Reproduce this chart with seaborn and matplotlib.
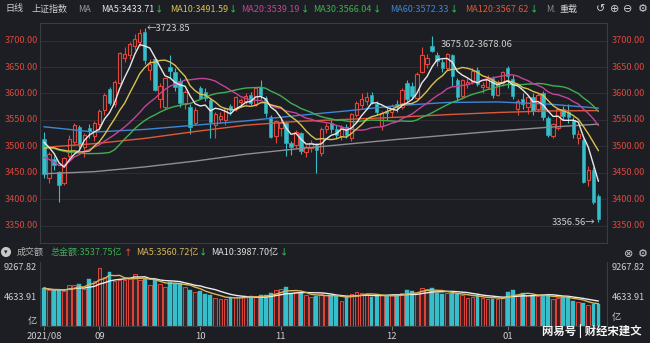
import numpy as np
import pandas as pd
import matplotlib
matplotlib.use("Agg")
import matplotlib.pyplot as plt
import seaborn as sns

# ---------------- data: SSE Composite, daily, 2021-08-17 .. 2022-01-28 ----------------
month_tick_day = [0, 11, 31, 47, 69, 92]
month_labels = ["2021/08", "09", "10", "11", "12", "01"]

opens = [3513, 3440, 3476, 3452, 3430, 3482, 3508, 3536, 3498, 3534, 3520,
         3542, 3568, 3608, 3580, 3620, 3668, 3672, 3690, 3697, 3716, 3645, 3665, 3590, 3575, 3650, 3640, 3624, 3580, 3575, 3545,
         3610, 3602, 3588, 3540, 3552, 3550, 3576, 3570, 3583, 3585, 3598, 3580, 3612, 3592, 3555, 3520,
         3535, 3545, 3506, 3502, 3525, 3490, 3497, 3502, 3488, 3533, 3545, 3533, 3520, 3537, 3515, 3560, 3578, 3585, 3597, 3580, 3538, 3567,
         3565, 3580, 3575, 3620, 3615, 3592, 3640, 3655, 3690, 3672, 3660, 3648, 3672, 3625, 3595, 3618, 3622, 3645, 3612, 3613, 3630, 3597, 3620,
         3649, 3628, 3570, 3590, 3575, 3594, 3570, 3600, 3553, 3520, 3535, 3570, 3565, 3550, 3515, 3512, 3436, 3456, 3405]
highs = [3528, 3489, 3482, 3454, 3480, 3522, 3545, 3541, 3525, 3543, 3548,
         3570, 3600, 3612, 3625, 3678, 3688, 3698, 3712, 3722, 3723.85, 3665, 3670, 3620, 3630, 3672, 3648, 3630, 3606, 3580, 3575,
         3614, 3610, 3592, 3565, 3565, 3575, 3580, 3596, 3592, 3600, 3602, 3612, 3625, 3596, 3560, 3550,
         3555, 3548, 3510, 3530, 3528, 3503, 3512, 3507, 3536, 3545, 3550, 3540, 3540, 3542, 3563, 3585, 3600, 3602, 3603, 3585, 3566, 3573,
         3580, 3588, 3610, 3626, 3622, 3640, 3688, 3675.02, 3708.94, 3678, 3665, 3676, 3675, 3630, 3628, 3630, 3648, 3650, 3622, 3635, 3633, 3625, 3642,
         3652, 3635, 3590, 3600, 3596, 3600, 3600, 3605, 3558, 3545, 3572, 3576, 3580, 3555, 3530, 3516, 3462, 3460, 3410]
lows = [3440, 3431, 3455, 3395, 3426, 3478, 3503, 3497, 3480, 3515, 3510,
        3530, 3560, 3578, 3575, 3618, 3660, 3665, 3683, 3690, 3655, 3625, 3605, 3572, 3570, 3630, 3605, 3575, 3570, 3524, 3540,
        3590, 3586, 3515, 3516, 3545, 3540, 3560, 3566, 3575, 3580, 3578, 3576, 3590, 3555, 3515, 3506,
        3520, 3482, 3483, 3497, 3486, 3480, 3490, 3450, 3482, 3525, 3525, 3516, 3512, 3515, 3510, 3555, 3570, 3578, 3580, 3560, 3530, 3550,
        3555, 3565, 3570, 3585, 3590, 3590, 3638, 3648, 3678.06, 3652, 3640, 3644, 3615, 3585, 3590, 3610, 3618, 3615, 3600, 3608, 3592, 3595, 3615,
        3610, 3590, 3560, 3570, 3562, 3560, 3565, 3550, 3518, 3515, 3530, 3550, 3545, 3515, 3505, 3430, 3425, 3390, 3356.56]
closes = [3446.98, 3485.29, 3465.55, 3427.33, 3477.13, 3514.47, 3540.38, 3501.66, 3522.16, 3528.15, 3543.94,
          3567.10, 3597.04, 3581.73, 3621.86, 3676.59, 3675.19, 3693.13, 3703.11, 3715.37, 3662.60, 3656.22, 3607.09, 3613.97,
          3628.49, 3642.22, 3613.07, 3582.83, 3602.22, 3536.29, 3568.17,
          3592.17, 3591.71, 3546.94, 3561.76, 3558.28, 3572.37, 3568.14, 3593.15, 3587.00, 3594.78, 3582.60, 3609.86, 3597.64,
          3562.31, 3518.42, 3547.34,
          3544.48, 3505.63, 3498.54, 3526.87, 3491.57, 3498.63, 3507.00, 3492.46, 3532.79, 3539.10, 3533.30, 3521.79, 3537.37,
          3520.71, 3560.37, 3582.08, 3589.09, 3592.70, 3584.18, 3564.09, 3562.70, 3563.89,
          3576.89, 3573.84, 3607.43, 3589.31, 3595.09, 3637.57, 3673.04, 3666.35, 3681.08, 3661.53, 3647.63, 3675.02, 3632.36,
          3593.60, 3625.13, 3622.62, 3643.34, 3618.05, 3615.97, 3630.11, 3597.00, 3619.19, 3639.78,
          3632.33, 3595.18, 3586.08, 3579.54, 3593.52, 3567.44, 3597.43, 3555.26, 3521.26, 3541.67, 3569.91, 3558.18, 3555.06,
          3522.57, 3524.11, 3433.06, 3455.67, 3394.25, 3361.44]
# closes of the 29 sessions before the window (needed for MA5..MA30 at the left edge)
closes_before = [3553.72, 3525.50, 3524.09, 3547.84, 3566.22, 3528.50, 3564.59, 3539.30, 3539.12, 3536.79,
                 3562.70, 3574.73, 3550.40, 3467.44, 3381.18, 3361.59, 3411.72, 3397.36,
                 3464.29, 3447.99, 3477.22, 3466.56, 3458.23, 3494.63, 3529.93, 3532.62, 3524.74, 3516.76, 3517.34]
# turnover, 100 million yuan (亿)
volumes = [6060, 5690, 5690, 5800, 5580, 6500, 6500, 6775, 5960, 7590, 7210,
           9267.82, 7860, 8670, 7210, 7430, 7320, 7590, 8290, 7430, 7590, 6500, 7430, 6775, 6230, 7050, 6775, 6880, 6230, 5690, 5420,
           5580, 5040, 4880, 4500, 4340, 4340, 4610, 4610, 4610, 4610, 4720, 4720, 4880, 4880, 5260, 5690,
           5960, 6230, 5040, 5420, 5260, 4880, 4610, 4720, 5150, 4880, 4880, 4720, 4065, 4610, 5150, 5420, 5260, 5150, 4610, 4880, 4880, 4880,
           4880, 4720, 5260, 5690, 5580, 5150, 6060, 5960, 6060, 5260, 5040, 5260, 5260, 5150, 4880, 4500, 4610, 4880, 4500, 4340, 4340, 4340, 4500,
           5420, 5690, 4880, 5260, 4880, 4880, 4720, 4880, 4880, 4300, 4500, 4700, 4500, 4073.40, 3800, 3700, 3300, 3465.85, 3537.75]
# long moving averages, sampled every ten sessions
ma_knot_day = [0, 10, 20, 30, 40, 50, 60, 70, 80, 90, 100, 110]
ma60_knots = [3537, 3527, 3532, 3540, 3548, 3558, 3567, 3577, 3583, 3584, 3580, 3572.33]
ma120_knots = [3498, 3505, 3515, 3528, 3540, 3547, 3551, 3555, 3560, 3564, 3567, 3567.62]
ma250_knots = [3448, 3452, 3461, 3472, 3485, 3495, 3504, 3513, 3521, 3529, 3536, 3542]
price_ticks = [3350, 3400, 3450, 3500, 3550, 3600, 3650, 3700]

# ---------------- style ----------------
sns.set_theme(style="dark")
plt.rcParams["font.family"] = ["Noto Sans CJK SC", "DejaVu Sans"]
plt.rcParams["axes.unicode_minus"] = False

BG = "#1d1e23"
GRID = "#2c2e34"
SPINE = "#3a3c43"
RED = "#e0463c"
CYAN = "#36bfca"
LABEL_RED = "#d9473d"
TXT = "#cfcfcf"
C_MA5, C_MA10, C_MA20, C_MA30 = "#e8e8e8", "#d8c250", "#c4449a", "#3fb050"
C_MA60, C_MA120, C_MA250 = "#3f86d4", "#dc5a38", "#8e8e92"
DOWN_G = "#2fb24a"

W, H = 650, 343
fig = plt.figure(figsize=(W / 100, H / 100), dpi=100, facecolor=BG)
renderer = fig.canvas.get_renderer()


def fx(px):
    return px / W


def fy(py):
    return 1 - py / H


ax = fig.add_axes([fx(40), fy(243), fx(607) - fx(40), fy(23) - fy(243)])
axv = fig.add_axes([fx(40), fy(326), fx(607) - fx(40), fy(262) - fy(326)])
for a in (ax, axv):
    a.set_facecolor(BG)
    for s in a.spines.values():
        s.set_color(SPINE)
        s.set_linewidth(0.8)
axv.spines["top"].set_visible(False)

o = np.array(opens, float)
h = np.array(highs, float)
l = np.array(lows, float)
c = np.array(closes, float)
v = np.array(volumes, float)
days = np.arange(len(c))
up = c >= o

# moving averages of the close
full_close = pd.Series(closes_before + closes)
n_before = len(closes_before)
ma = {n: full_close.rolling(n).mean().to_numpy()[n_before:] for n in (5, 10, 20, 30)}

# ---------------- price panel ----------------
for lvl in price_ticks:
    ax.axhline(lvl, color=GRID, lw=0.8, zorder=0)

body_lo = np.minimum(o, c)
body_hi = np.maximum(o, c)
body_h = np.maximum(body_hi - body_lo, 0.8)
cols = np.where(up, RED, CYAN)
ax.vlines(days, body_hi, h, colors=cols, lw=0.8, zorder=2)
ax.vlines(days, l, body_lo, colors=cols, lw=0.8, zorder=2)
ax.bar(days[up], body_h[up], bottom=body_lo[up], width=0.66, facecolor=BG,
       edgecolor=RED, linewidth=0.8, zorder=3)
ax.bar(days[~up], body_h[~up], bottom=body_lo[~up], width=0.66, facecolor=CYAN,
       edgecolor=CYAN, linewidth=0.4, zorder=3)

sns.lineplot(x=ma_knot_day, y=ma250_knots, ax=ax, color=C_MA250, lw=1.0, zorder=4, legend=False)
sns.lineplot(x=ma_knot_day, y=ma120_knots, ax=ax, color=C_MA120, lw=1.0, zorder=4, legend=False)
sns.lineplot(x=ma_knot_day, y=ma60_knots, ax=ax, color=C_MA60, lw=1.0, zorder=4, legend=False)
sns.lineplot(x=days, y=ma[30], ax=ax, color=C_MA30, lw=1.0, zorder=4, legend=False)
sns.lineplot(x=days, y=ma[20], ax=ax, color=C_MA20, lw=1.0, zorder=4, legend=False)
sns.lineplot(x=days, y=ma[10], ax=ax, color=C_MA10, lw=1.0, zorder=5, legend=False)
sns.lineplot(x=days, y=ma[5], ax=ax, color=C_MA5, lw=1.0, zorder=5, legend=False)

ax.set_xlim(-0.79, 111.7)
ax.set_ylim(3316.9, 3733.5)
ax.set_xticks([])
ax.set_yticks([])
ax.set_xlabel("")
ax.set_ylabel("")

ytr = ax.get_yaxis_transform()
for lvl in price_ticks:
    ax.text(-0.004, lvl, f"{lvl:.2f}", transform=ytr, ha="right", va="center",
            color=LABEL_RED, fontsize=6.6, clip_on=False)
    ax.text(1.0088, lvl, f"{lvl:.2f}", transform=ytr, ha="left", va="center",
            color=LABEL_RED, fontsize=6.6, clip_on=False)

pk = int(np.argmax(h))
ax.annotate(f"←{h[pk]:.2f}", xy=(pk, h[pk]), xytext=(1.5, 0), textcoords="offset points",
            ha="left", va="center", color=TXT, fontsize=6.8, zorder=6)
lo_i = int(np.argmin(l))
ax.annotate(f"{l[lo_i]:.2f}→", xy=(lo_i, l[lo_i]), xytext=(-2, 0), textcoords="offset points",
            ha="right", va="center", color=TXT, fontsize=6.8, zorder=6)
gap_i = 77
ax.annotate(f"{h[gap_i - 1]:.2f}-{l[gap_i]:.2f}", xy=(gap_i, l[gap_i]), xytext=(6.5, 5.3),
            textcoords="offset points", ha="left", va="center", color=TXT, fontsize=6.8, zorder=6)

# ---------------- turnover panel ----------------
axv.bar(days[up], v[up], width=0.74, facecolor="#3b2226", edgecolor=RED, linewidth=0.7, zorder=2)
axv.bar(days[~up], v[~up], width=0.74, facecolor=CYAN, edgecolor=CYAN, linewidth=0.3, zorder=2)
vs = pd.Series(v)
vma5 = vs.rolling(5, min_periods=1).mean().to_numpy()
vma10 = vs.rolling(10, min_periods=1).mean().to_numpy()
sns.lineplot(x=days, y=vma10, ax=axv, color="#ececec", lw=1.0, zorder=3, legend=False)
sns.lineplot(x=days, y=vma5, ax=axv, color="#d9b45a", lw=1.0, zorder=3, legend=False)

vmax = float(v.max())
axv.set_xlim(-0.79, 111.7)
axv.set_ylim(0, vmax * 64 / 58)
axv.set_yticks([])
axv.set_xlabel("")
axv.set_ylabel("")
axv.set_xticks(month_tick_day)
axv.set_xticklabels(month_labels)
axv.tick_params(axis="x", labelcolor=TXT, labelsize=6.8, length=3, width=0.6,
                color="#8a8a8a", pad=1.2, bottom=True)

vtr = axv.get_yaxis_transform()
for val, lab in ((vmax, f"{vmax:.2f}"), (vmax / 2, f"{vmax / 2:.2f}")):
    axv.text(-0.005, val, lab, transform=vtr, ha="right", va="center", color=TXT, fontsize=6.6, clip_on=False)
    axv.text(1.0088, val, lab, transform=vtr, ha="left", va="center", color=TXT, fontsize=6.6, clip_on=False)
axv.text(-0.005, 0, "亿", transform=vtr, ha="right", va="bottom", color=TXT, fontsize=6.6, clip_on=False)
axv.annotate("亿", xy=(1.0088, 0), xycoords=vtr, xytext=(0, 3), textcoords="offset points",
             ha="left", va="bottom", color=TXT, fontsize=6.6, annotation_clip=False)


# ---------------- header rows ----------------
def htext(px, py, s, color, size=6.5, **kw):
    t = fig.text(fx(px), fy(py), s, color=color, fontsize=size, ha="left", va="center", **kw)
    return t.get_window_extent(renderer).x1


def chain(py, items, x0):
    """Lay out label/arrow pairs left to right; items are (start_px, text, colour, arrow, arrow_colour)."""
    for start, s, col, arrow, acol in items:
        end = htext(max(start, x0), py, s, col)
        x0 = htext(end + 1, py, arrow, acol, 6.0, fontweight="bold") + 4


hy = 9
htext(5, hy, "日线", TXT)
htext(31, hy, "上证指数", TXT)
htext(78, hy, "MA", "#9a9a9a")
chain(hy, [
    (101, f"MA5:{ma[5][-1]:.2f}", C_MA5, "↓", DOWN_G),
    (170, f"MA10:{ma[10][-1]:.2f}", C_MA10, "↓", DOWN_G),
    (238, f"MA20:{ma[20][-1]:.2f}", C_MA20, "↓", DOWN_G),
    (313, f"MA30:{ma[30][-1]:.2f}", C_MA30, "↓", DOWN_G),
    (390, f"MA60:{ma60_knots[-1]:.2f}", C_MA60, "↓", DOWN_G),
    (465, f"MA120:{ma120_knots[-1]:.2f}", C_MA120, "↓", DOWN_G),
], 101)
htext(546, hy, "M.", "#8a8a8a")
htext(560, hy, "重载", TXT)
htext(596, hy, "↺", TXT, 8.0, family=["DejaVu Sans"])
htext(610, hy, "⊕", TXT, 8.0, family=["DejaVu Sans"])
htext(623, hy, "⊖", TXT, 8.0, family=["DejaVu Sans"])
htext(638, hy, "⚙", TXT, 8.0, family=["DejaVu Sans"])

vy = 252
fig.text(fx(6), fy(vy), "▾", color=BG, fontsize=5, ha="center", va="center",
         bbox=dict(boxstyle="circle,pad=0.15", fc="#c8c8c8", ec="none"))
htext(17, vy, "成交额", "#b4b4b4")
chain(vy, [
    (51, f"总金额:{v[-1]:.2f}亿", "#3fae55", "↑", RED),
    (132, f"MA5:{vma5[-1]:.2f}亿", "#d9b45a", "↓", DOWN_G),
    (205, f"MA10:{vma10[-1]:.2f}亿", "#e0e0e0", "↓", DOWN_G),
], 51)
htext(624, 254, "⊗", TXT, 8.0, family=["DejaVu Sans"])
htext(638, 254, "⚙", TXT, 8.0, family=["DejaVu Sans"])

fig.text(fx(642), fy(331), "网易号 | 财经宋建文", color="#f4f4f4", fontsize=8.2,
         ha="right", va="center", fontweight="bold")

fig.savefig("out.png", dpi=100, facecolor=BG)
